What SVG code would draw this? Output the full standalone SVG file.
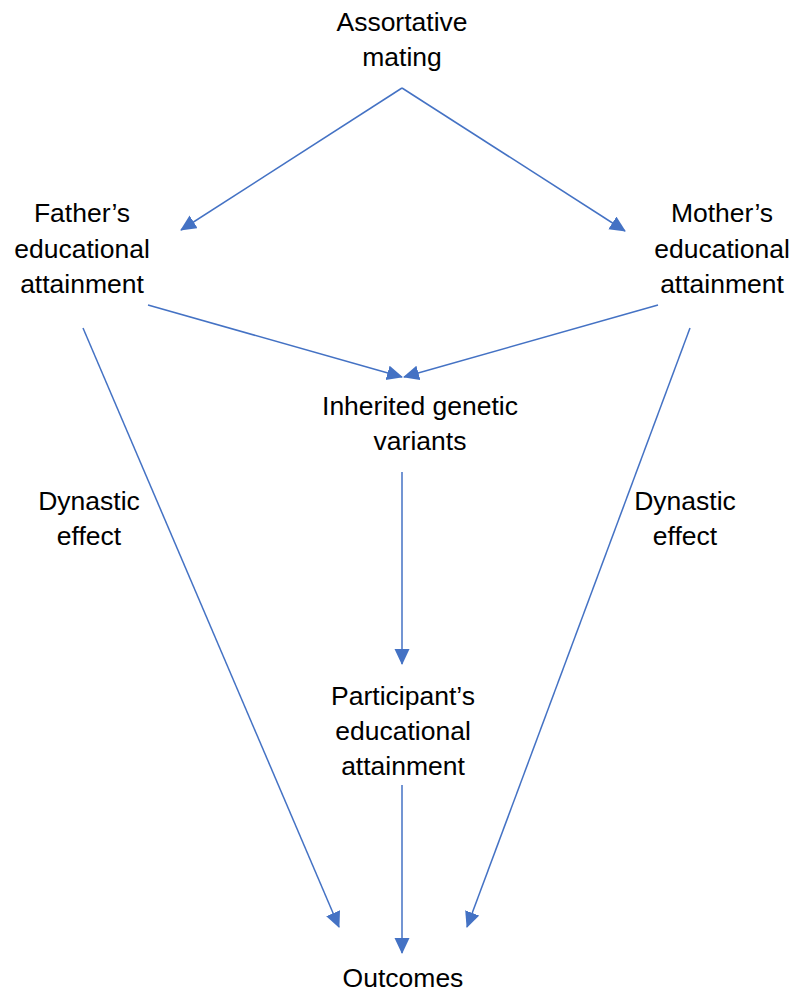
<svg xmlns="http://www.w3.org/2000/svg" width="795" height="994" viewBox="0 0 795 994">
<defs>
<style>
text{font-family:"Liberation Sans",Arial,sans-serif;font-size:26.5px;fill:#000;text-anchor:middle}
.c{stroke:#4472C4;stroke-width:1.5;fill:none;marker-end:url(#ah)}
</style>
<marker id="ah" markerUnits="userSpaceOnUse" markerWidth="18" markerHeight="18" refX="15" refY="7.5" orient="auto" viewBox="0 0 18 18">
<path d="M0,0 L16,7.5 L0,15 z" fill="#4472C4"/>
</marker>
</defs>
<rect width="795" height="994" fill="#fff"/>
<g id="connectors">
<line class="c" x1="402" y1="88" x2="181" y2="230"/>
<line class="c" x1="402" y1="88" x2="625" y2="231"/>
<line class="c" x1="148" y1="305" x2="402" y2="377"/>
<line class="c" x1="658" y1="305" x2="404" y2="377"/>
<line class="c" x1="402" y1="472" x2="402" y2="664"/>
<line class="c" x1="402" y1="785" x2="402" y2="953"/>
<line class="c" x1="83" y1="328" x2="339" y2="927"/>
<line class="c" x1="690" y1="328" x2="467" y2="927"/>
</g>
<g id="assortative"><text x="402" y="31">Assortative</text><text x="402" y="66">mating</text></g>
<g id="father"><text x="82" y="222">Father’s</text><text x="82" y="258">educational</text><text x="82" y="293">attainment</text></g>
<g id="mother"><text x="722" y="222">Mother’s</text><text x="722" y="258">educational</text><text x="722" y="293">attainment</text></g>
<g id="genetic"><text x="420" y="415">Inherited genetic</text><text x="420" y="450">variants</text></g>
<g id="dynastic-left"><text x="89" y="510">Dynastic</text><text x="89" y="545">effect</text></g>
<g id="dynastic-right"><text x="685" y="510">Dynastic</text><text x="685" y="545">effect</text></g>
<g id="participant"><text x="403" y="705">Participant’s</text><text x="403" y="740">educational</text><text x="403" y="775">attainment</text></g>
<g id="outcomes"><text x="403" y="987">Outcomes</text></g>
</svg>
